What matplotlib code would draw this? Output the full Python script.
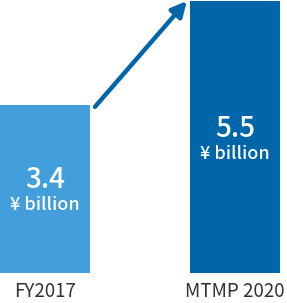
import matplotlib
matplotlib.use("Agg")
import matplotlib.pyplot as plt

categories = ["FY2017", "MTMP 2020"]
values = [3.4, 5.5]
unit = "¥ billion"
colors = ["#439fdb", "#0066aa"]

plt.rcParams['font.family'] = ['Noto Sans CJK JP', 'DejaVu Sans']

fig = plt.figure(figsize=(2.87, 3.03), dpi=100)
ax = fig.add_axes([0, 30 / 303, 1, 272 / 303])

x = [0, 1]
ax.bar(x, values, width=90 / 190, color=colors)
ax.set_xlim(-45 / 190, 1 + 52 / 190)
ax.set_ylim(0, max(values))

# value labels inside the bars
num_y = [1.9, 2.93]
for xi, v, ny in zip(x, values, num_y):
    ax.text(xi, ny, f"{v}", ha="center", va="center", color="white",
            fontsize=20, fontweight="medium")
    ax.text(xi, ny - 0.53, unit, ha="center", va="center", color="white",
            fontsize=13, fontweight="medium")

# growth arrow
ax.annotate("", xy=(0.747, 5.5), xytext=(0.263, 3.36),
            arrowprops=dict(arrowstyle="-|>,head_length=0.9,head_width=0.45",
                            color=colors[1], lw=3.2, shrinkA=0, shrinkB=0),
            annotation_clip=False)

ax.set_xticks(x)
ax.set_xticklabels(categories, fontsize=13.5, color="#333333")
ax.tick_params(axis="x", length=0, pad=6)
ax.set_yticks([])
for s in ax.spines.values():
    s.set_visible(False)

fig.savefig("out.png", dpi=100)
